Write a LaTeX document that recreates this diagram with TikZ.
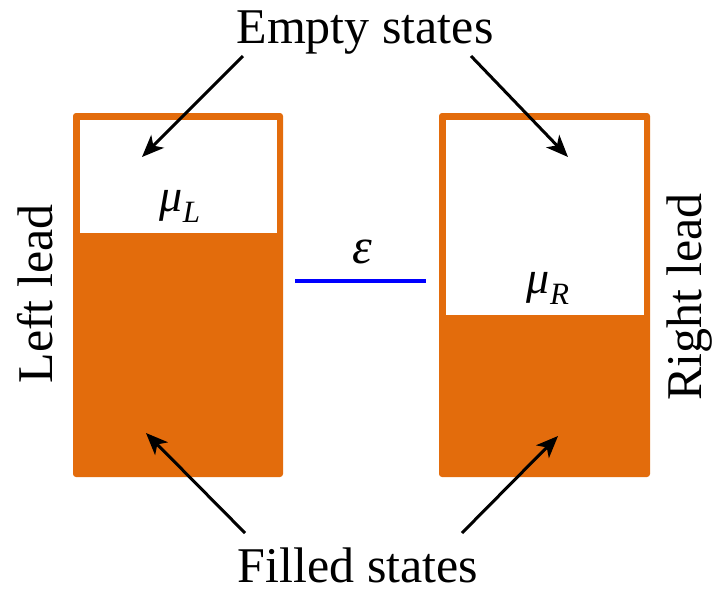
\documentclass[tikz,border=0pt]{standalone}
\usepackage{fontspec}
\setmainfont{Liberation Serif}
\usetikzlibrary{arrows.meta}
\definecolor{leadorange}{RGB}{227,108,12}
\begin{document}
\begin{tikzpicture}[x=1pt,y=-1pt,
  lbl/.style={font=\fontsize{50}{60}\selectfont, inner sep=0pt},
  arr/.style={line width=3pt, -{Stealth[length=22pt,width=18pt,inset=6pt]}},
  sym/.style={font=\fontsize{46}{54}\selectfont\itshape, inner sep=0pt},
  leadfill/.style={fill=leadorange, rounded corners=3pt},
  emptyfill/.style={fill=white}]
\useasboundingbox (0,0) rectangle (716,595);
% left lead
\path[leadfill] (73,113) rectangle (283,477);
\path[emptyfill] (79.5,119.5) rectangle (276.5,233);
% right lead
\path[leadfill] (439,113) rectangle (650,477);
\path[emptyfill] (445.5,119.5) rectangle (643.5,315);
% dot level
\coordinate (lvA) at (295,281);
\coordinate (lvB) at (426,281);
\draw[blue, line width=4.8pt] (lvA) -- (lvB);
\node[sym, font=\fontsize{50}{60}\selectfont\itshape, anchor=base] (eps) at (362,263) {ε};
\node[sym, anchor=base] (muL) at (180,211) {μ\raisebox{-11pt}{\fontsize{31}{34}\selectfont L}};
\node[sym, anchor=base] (muR) at (548,293) {μ\raisebox{-11pt}{\fontsize{31}{34}\selectfont R}};
% labels
\node[lbl, anchor=base] (empty) at (365,43) {Empty states};
\node[lbl, anchor=base] (filled) at (358,582) {Filled states};
\node[lbl, rotate=90] (left) at (35,294) {Left lead};
\node[lbl, rotate=90] (right) at (690,297) {Right lead};
% arrows
\coordinate (e1s) at (243,56);
\coordinate (e1t) at (142,157);
\coordinate (e2s) at (471,56);
\coordinate (e2t) at (568,157);
\coordinate (f1s) at (245,533);
\coordinate (f1t) at (146,433);
\coordinate (f2s) at (462,533);
\coordinate (f2t) at (558,436);
\draw[arr] (e1s) -- (e1t);
\draw[arr] (e2s) -- (e2t);
\draw[arr] (f1s) -- (f1t);
\draw[arr] (f2s) -- (f2t);
\end{tikzpicture}
\end{document}
